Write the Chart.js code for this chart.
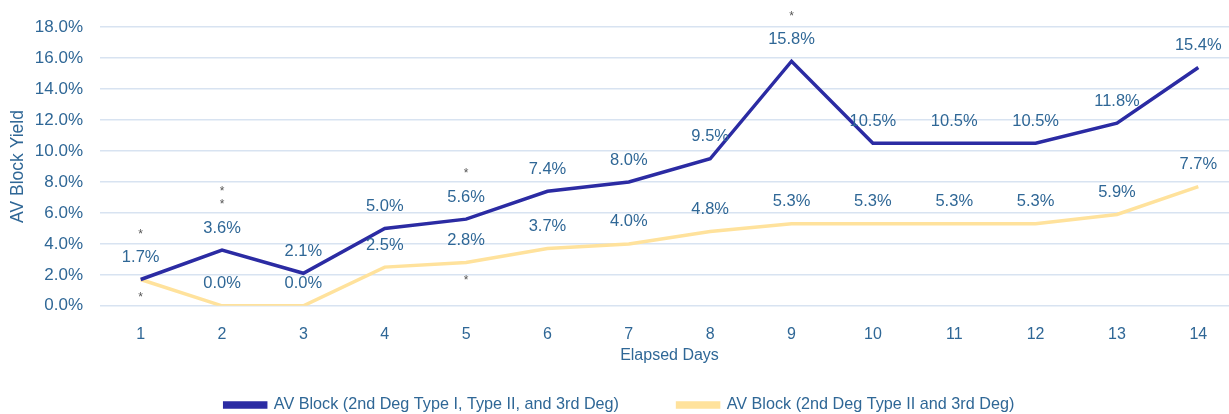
<!DOCTYPE html>
<html>
<head>
<meta charset="utf-8">
<script src="https://cdn.jsdelivr.net/npm/chart.js@4.4.1/dist/chart.umd.min.js"></script>
<style>
  html, body { margin: 0; padding: 0; background: #ffffff; overflow: hidden; }
  #wrap { position: relative; width: 1239px; height: 414px; }
</style>
</head>
<body>
<div id="wrap"><canvas id="avChart"></canvas></div>
<script>
// Data
const DAYS = ['1', '2', '3', '4', '5', '6', '7', '8', '9', '10', '11', '12', '13', '14'];
const ALL_AV_BLOCK = [1.7, 3.6, 2.1, 5.0, 5.6, 7.4, 8.0, 9.5, 15.8, 10.5, 10.5, 10.5, 11.8, 15.4];
const HIGH_GRADE_AV_BLOCK = [1.7, 0.0, 0.0, 2.5, 2.8, 3.7, 4.0, 4.8, 5.3, 5.3, 5.3, 5.3, 5.9, 7.7];
// significance marks (number of asterisks) above the blue labels / below the yellow line
const ALL_SIG_MARKS = [1, 2, 0, 0, 1, 0, 0, 0, 1, 0, 0, 0, 0, 0];
const HIGH_GRADE_SIG_MARKS = [1, 0, 0, 0, 1, 0, 0, 0, 0, 0, 0, 0, 0, 0];
const SERIES_NAMES = [
    'AV Block (2nd Deg Type I, Type II, and 3rd Deg)',
    'AV Block (2nd Deg Type II and 3rd Deg)'
];
const Y_MAX = 18;
const Y_STEP = 2;

// Colours / fonts
const BLUE = '#2B2BA3';
const YELLOW = '#FFE29C';
const TEXT = '#2F6796';
const GRID = '#D8E3F1';
const FONT = "'Liberation Sans', Arial, sans-serif";

// ======================
// Label plugin
// ======================
const pointLabels = {
    id: 'pointLabels',
    afterDatasetsDraw(chart) {
        const ctx = chart.ctx;
        ctx.save();
        ctx.textAlign = 'center';
        ctx.textBaseline = 'middle';

        const blueMeta = chart.getDatasetMeta(0);
        const yellowMeta = chart.getDatasetMeta(1);

        blueMeta.data.forEach((pt, i) => {
            ctx.font = `16.5px ${FONT}`;
            ctx.fillStyle = TEXT;
            ctx.fillText(ALL_AV_BLOCK[i].toFixed(1) + '%', pt.x, pt.y - 22);

            ctx.font = `12px ${FONT}`;
            ctx.fillStyle = '#555555';
            for (let k = 0; k < ALL_SIG_MARKS[i]; k++) {
                ctx.fillText('*', pt.x, pt.y - 45 - k * 13);
            }
        });

        yellowMeta.data.forEach((pt, i) => {
            // same value as the blue series -> single label only
            if (HIGH_GRADE_AV_BLOCK[i] !== ALL_AV_BLOCK[i]) {
                ctx.font = `16.5px ${FONT}`;
                ctx.fillStyle = TEXT;
                ctx.fillText(HIGH_GRADE_AV_BLOCK[i].toFixed(1) + '%', pt.x, pt.y - 22);
            }
            ctx.font = `12px ${FONT}`;
            ctx.fillStyle = '#555555';
            for (let k = 0; k < HIGH_GRADE_SIG_MARKS[i]; k++) {
                ctx.fillText('*', pt.x, pt.y + 18 + k * 13);
            }
        });
        ctx.restore();
    }
};

// ======================
// Chart
// ======================
const gapLabel = (text, gap) => text + '\u2003'.repeat(gap);

new Chart(document.getElementById('avChart'), {
    type: 'line',
    data: {
        labels: DAYS,
        datasets: [{
            label: SERIES_NAMES[0],
            data: ALL_AV_BLOCK,
            borderColor: BLUE,
            backgroundColor: BLUE,
            borderWidth: 3.5,
            pointRadius: 0,
            tension: 0
        }, {
            label: SERIES_NAMES[1],
            data: HIGH_GRADE_AV_BLOCK,
            borderColor: YELLOW,
            backgroundColor: YELLOW,
            borderWidth: 3.5,
            pointRadius: 0,
            tension: 0
        }]
    },
    options: {
        responsive: true,
        maintainAspectRatio: false,
        animation: false,
        layout: { padding: { top: 24, left: 0, right: 0, bottom: -9 } },
        plugins: {
            tooltip: { enabled: false },
            legend: {
                position: 'bottom',
                labels: {
                    color: TEXT,
                    font: { family: FONT, size: 16.2 },
                    boxWidth: 41,
                    boxHeight: 4,
                    padding: 10,
                    generateLabels(chart) {
                        const items = Chart.defaults.plugins.legend.labels.generateLabels(chart);
                        items[0].text = gapLabel(items[0].text, 3);
                        return items;
                    }
                }
            }
        },
        scales: {
            x: {
                offset: true,
                afterFit: scale => { scale.height = 81; },
                grid: { display: false, drawTicks: false },
                border: { display: false },
                ticks: { color: TEXT, font: { family: FONT, size: 16 }, padding: 19, maxRotation: 0 },
                title: {
                    display: true,
                    text: 'Elapsed Days',
                    color: TEXT,
                    font: { family: FONT, size: 16 },
                    padding: { top: 2, bottom: 22 }
                }
            },
            y: {
                min: 0,
                max: Y_MAX,
                afterFit: scale => { scale.width = 100; },
                grid: { color: GRID, lineWidth: 1.5, drawTicks: false },
                border: { display: false },
                ticks: {
                    stepSize: Y_STEP,
                    color: TEXT,
                    font: { family: FONT, size: 17 },
                    padding: 17,
                    callback: v => v.toFixed(1) + '%'
                },
                title: {
                    display: true,
                    text: 'AV Block Yield',
                    color: TEXT,
                    font: { family: FONT, size: 17.5 },
                    padding: { top: 8, bottom: 0 }
                }
            }
        }
    },
    plugins: [pointLabels]
});
</script>
</body>
</html>
